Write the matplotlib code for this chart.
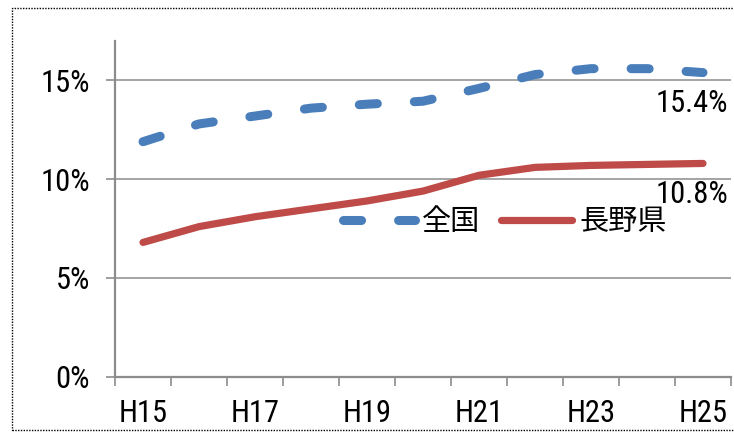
import matplotlib
matplotlib.use("Agg")
import matplotlib.pyplot as plt
from matplotlib import font_manager
from matplotlib.font_manager import FontProperties
from matplotlib.patches import Rectangle
from matplotlib.ticker import FixedLocator, FuncFormatter

# fiscal years (Heisei) and share of each series
years = ["H15", "H16", "H17", "H18", "H19", "H20", "H21", "H22", "H23", "H24", "H25"]
zenkoku = [11.9, 12.8, 13.2, 13.6, 13.8, 13.95, 14.6, 15.3, 15.6, 15.6, 15.4]
nagano = [6.8, 7.6, 8.1, 8.5, 8.9, 9.4, 10.2, 10.6, 10.7, 10.75, 10.8]
series_names = ["全国", "長野県"]


def narrow_font(size):
    # look for a condensed / narrow sans face, else plain DejaVu Sans
    best = None
    for f in font_manager.fontManager.ttflist:
        cond = ("Narrow" in f.name or "Condensed" in f.name
                or f.stretch in ("condensed", "semi-condensed", "extra-condensed", 300, 400, 500))
        if not cond or f.style != "normal":
            continue
        if f.weight not in ("normal", "regular", 400, "book"):
            continue
        if "Mono" in f.name or "Serif" in f.name:
            continue
        best = f.fname
        if "Liberation" in f.name:
            break
    if best is None:
        return FontProperties(family="DejaVu Sans", size=size)
    return FontProperties(fname=best, size=size)


num_prop = narrow_font(22)
jp_font = ["Noto Sans CJK JP", "DejaVu Sans"]

blue = "#4A7EBB"
red = "#BE4B48"
gray = "#8C8C8C"

W, H = 734, 433
fig = plt.figure(figsize=(W / 100, H / 100), dpi=100)
ax = fig.add_axes([115 / W, (H - 376.7) / H, (731 - 115) / W, (376.7 - 41) / H])

x = list(range(len(years)))

# the two lines
l1, = ax.plot(x, zenkoku, color=blue, linewidth=6.5, dash_capstyle="round",
              solid_capstyle="round", zorder=3)
l1.set_dashes((2.0, 4.1))
l2, = ax.plot(x, nagano, color=red, linewidth=5.2, solid_capstyle="round", zorder=3)

# value labels on the last year
for vals in (zenkoku, nagano):
    ax.annotate("%.1f%%" % vals[-1], xy=(x[-1], vals[-1]), xytext=(18, -12),
                textcoords="offset points", ha="right", va="top",
                fontproperties=num_prop, color="black", zorder=4)

# axes
ax.set_xlim(-0.5, len(years) - 0.5)
ax.set_ylim(0, 17)
for s in ("top", "right"):
    ax.spines[s].set_visible(False)
for s in ("left", "bottom"):
    ax.spines[s].set_color(gray)
    ax.spines[s].set_linewidth(1.6)

ax.set_yticks([0, 5, 10, 15])
ax.yaxis.set_major_formatter(FuncFormatter(lambda v, p: "%d%%" % v))
ax.tick_params(axis="y", direction="out", length=6.5, width=1.2, color=gray, pad=11.5)
ax.grid(axis="y", color=gray, linewidth=1.1, zorder=1)
ax.set_axisbelow(True)

ax.set_xticks(x[::2])
ax.set_xticklabels(years[::2])
ax.xaxis.set_minor_locator(FixedLocator([i - 0.5 for i in range(len(years) + 1)]))
ax.tick_params(axis="x", which="major", length=0, pad=16)
ax.tick_params(axis="x", which="minor", direction="out", length=6.5, width=1.2, color=gray)

for lab in ax.get_xticklabels() + ax.get_yticklabels():
    lab.set_fontproperties(num_prop)

# legend in the middle of the plot
ax.legend([l1, l2], series_names, loc="center", bbox_to_anchor=(0.633, 0.461),
          ncol=2, frameon=False, prop={"family": jp_font, "size": 21},
          handlelength=2.45, handletextpad=0.25, columnspacing=0.7)

# dotted frame round the chart
fig.patches.append(Rectangle((12 / W, 3 / H), 1.0, (H - 11) / H, transform=fig.transFigure,
                             fill=False, edgecolor="black", linewidth=1.0,
                             linestyle=(0, (1, 1))))

fig.savefig("out.png", dpi=100)
